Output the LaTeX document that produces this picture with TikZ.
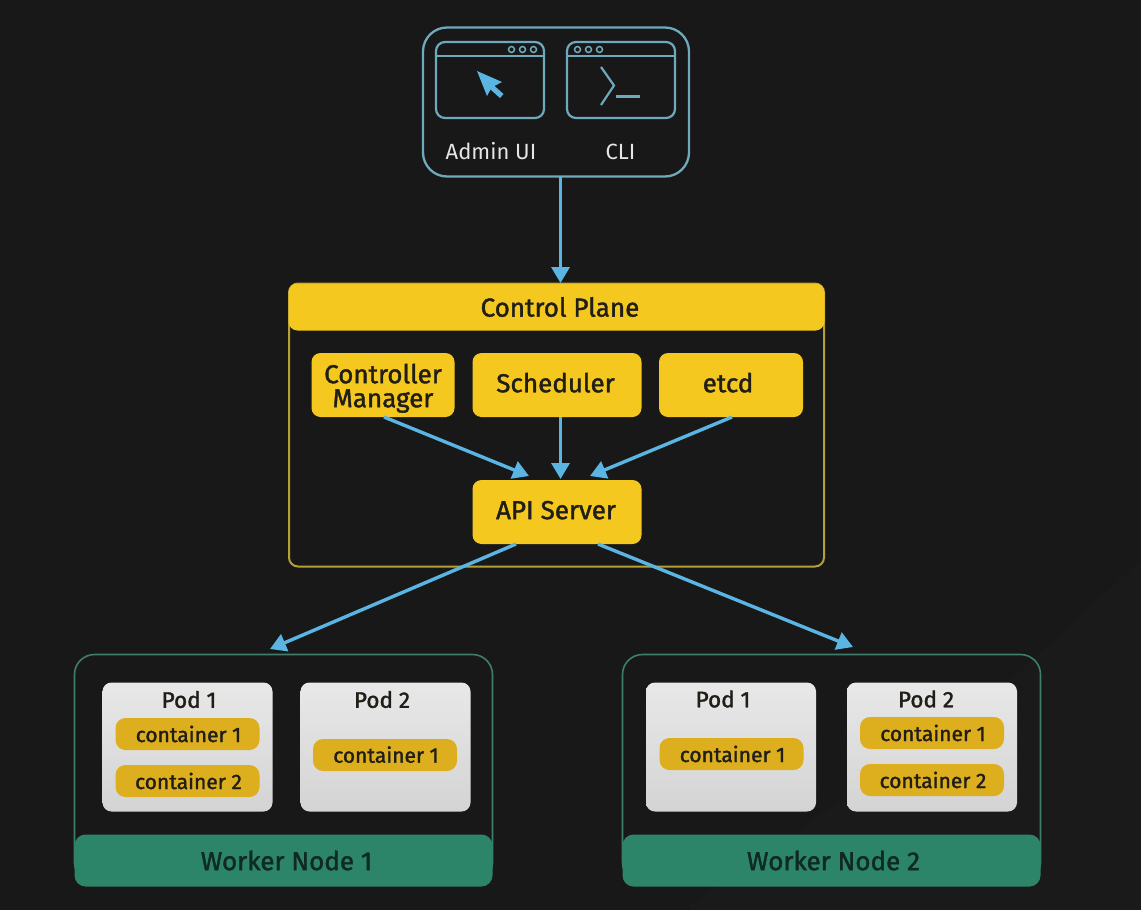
\documentclass[tikz,border=0pt]{standalone}
\usepackage{fontspec}
\setmainfont{Fira Sans}[BoldFont=Fira Sans,BoldFeatures={FakeBold=1.5}]
\usetikzlibrary{arrows.meta,calc}
\definecolor{bgc}{HTML}{181819}
\definecolor{bluec}{HTML}{5AB5E2}
\definecolor{frameb}{HTML}{6FA9BC}
\definecolor{yell}{HTML}{F4C81F}
\definecolor{framey}{HTML}{B5A035}
\definecolor{greenf}{HTML}{2C8568}
\definecolor{framegr}{HTML}{3E7E6A}
\definecolor{contc}{HTML}{DDAE1E}
\definecolor{textd}{HTML}{201E16}
\definecolor{textg}{HTML}{0F2A22}
\tikzset{
  x=1pt,y=-1pt,
  box/.style={draw=none,fill=yell,rounded corners=9pt,inner sep=0pt,text=textd,align=center,font=\bfseries\fontsize{26}{25}\selectfont},
  wire/.style={bluec,line width=3.4pt,-{Triangle[length=16pt,width=18pt]}},
  podbox/.style={draw=none,top color=white!91!black,bottom color=white!83!black,rounded corners=9pt,inner sep=0pt},
  podlab/.style={text=textd,inner sep=0pt,font=\fontsize{22.5}{22}\bfseries\selectfont},
  cont/.style={fill=contc,rounded corners=10pt,inner sep=0pt,minimum width=144pt,minimum height=32pt,text=textd,font=\fontsize{21}{20}\bfseries\selectfont},
  wnode/.style={fill=greenf,rounded corners=11pt,inner sep=0pt,minimum width=418pt,minimum height=52pt,text=textg,font=\fontsize{26}{25}\bfseries\selectfont},
  wframe/.style={draw=framegr,line width=1.6pt,rounded corners=20pt},
  winb/.style={draw=frameb,line width=2.2pt,rounded corners=9pt},
  lab/.style={text=white!90!black,inner sep=0pt,font=\fontsize{22}{22}\selectfont},
}
\begin{document}
\begin{tikzpicture}
\useasboundingbox (0,0) rectangle (1141,910);
\fill[bgc] (0,0) rectangle (1141,910);
\fill[white,opacity=0.012] (1141,560) -- (1141,910) -- (690,910) -- (690,905) -- (1000,690) -- cycle;
% top panel
\node[draw=frameb,line width=2.3pt,rounded corners=24pt,minimum width=266pt,minimum height=149pt,inner sep=0pt] (clients) at (556,102) {};
\draw[winb] (436,42) rectangle (544,118);
\draw[frameb,line width=2pt] (436,55.5) -- (544,55.5);
\draw[winb] (567,42) rectangle (675,118);
\draw[frameb,line width=2pt] (567,55.5) -- (675,55.5);
\foreach \x in {511.5,522.5,533.5,577.5,588.5,599.5}
  \draw[frameb,line width=1.5pt] (\x,49.5) circle (3pt);
\fill[bluec] (477,71) -- (502,82) -- (494.5,86) -- (503.5,94) -- (500,98) -- (490.5,89.5) -- (487,96) -- cycle;
\draw[frameb,line width=2.2pt] (601,67) -- (614,85.5) -- (601,105);
\draw[frameb,line width=2.2pt] (616,96.5) -- (640,96.5);
\node[lab] (admin) at (491,151.5) {Admin UI};
\node[lab] (cli) at (620.5,151.5) {CLI};
% control plane
\node[draw=framey,line width=2pt,rounded corners=9pt,minimum width=535pt,minimum height=283pt,inner sep=0pt] (cpframe) at (556.5,425) {};
\node[box,minimum width=536pt,minimum height=47pt] (cp) at (556.5,307) {\kern7pt Control Plane};
\node[box,minimum width=143pt,minimum height=64pt] (cm) at (383,385) {\rule{0pt}{26pt}Controller\\[-1pt]Manager};
\node[box,minimum width=169pt,minimum height=64pt] (sched) at (557,385) {\kern-3pt\raisebox{5pt}{Scheduler}};
\node[box,minimum width=144pt,minimum height=64pt] (etcd) at (731,385) {\kern-6pt\raisebox{5pt}{etcd}};
\node[box,minimum width=169pt,minimum height=64pt] (api) at (557,512) {\kern-2pt\raisebox{4pt}{API Server}};
% workers
\node[wframe,minimum width=418pt,minimum height=228pt,inner sep=0pt] (w1f) at (283.5,768.5) {};
\node[wframe,minimum width=418pt,minimum height=228pt,inner sep=0pt] (w2f) at (831.5,768.5) {};
\node[wnode] (w1) at (283.5,860.5) {\kern6pt Worker Node 1};
\node[wnode] (w2) at (831.5,860.5) {\kern4pt Worker Node 2};
% pods
\node[podbox,minimum width=170pt,minimum height=129pt] (p11) at (187.5,747) {};
\node[podbox,minimum width=170pt,minimum height=129pt] (p12) at (385.5,747) {};
\node[podbox,minimum width=170pt,minimum height=129pt] (p21) at (731,747) {};
\node[podbox,minimum width=170pt,minimum height=129pt] (p22) at (932,747) {};
\node[podlab] (l11) at (189,699.5) {Pod 1};
\node[podlab] (l12) at (382,699.5) {Pod 2};
\node[podlab] (l21) at (723,699) {Pod 1};
\node[podlab] (l22) at (926,699) {Pod 2};
\node[cont] (c111) at (187.5,734) {\kern2pt container 1};
\node[cont] (c112) at (187.5,781) {\kern2pt container 2};
\node[cont] (c121) at (385,755) {\raisebox{1pt}{\kern2pt container 1}};
\node[cont] (c211) at (731.5,754) {\kern2pt container 1};
\node[cont] (c221) at (932,733) {\kern2pt container 1};
\node[cont] (c222) at (932,780) {\kern2pt container 2};
% connectors
\coordinate (apiL) at (529,476);
\coordinate (apiM) at (560.5,479);
\coordinate (apiR) at (590,476);
\coordinate (cmS) at (384,417);
\coordinate (scS) at (560.5,417);
\coordinate (etS) at (732,417);
\coordinate (apiSL) at (516,544);
\coordinate (apiSR) at (598,544);
\coordinate (w1T) at (270,649);
\coordinate (w2T) at (853,647);
\coordinate (cliS) at (560.5,177);
\coordinate (cpT) at (560.5,283);
\draw[wire] (cliS) -- (cpT);
\draw[wire] (cmS) -- (apiL);
\draw[wire] (scS) -- (apiM);
\draw[wire] (etS) -- (apiR);
\draw[wire] (apiSL) -- (w1T);
\draw[wire] (apiSR) -- (w2T);
\end{tikzpicture}
\end{document}
